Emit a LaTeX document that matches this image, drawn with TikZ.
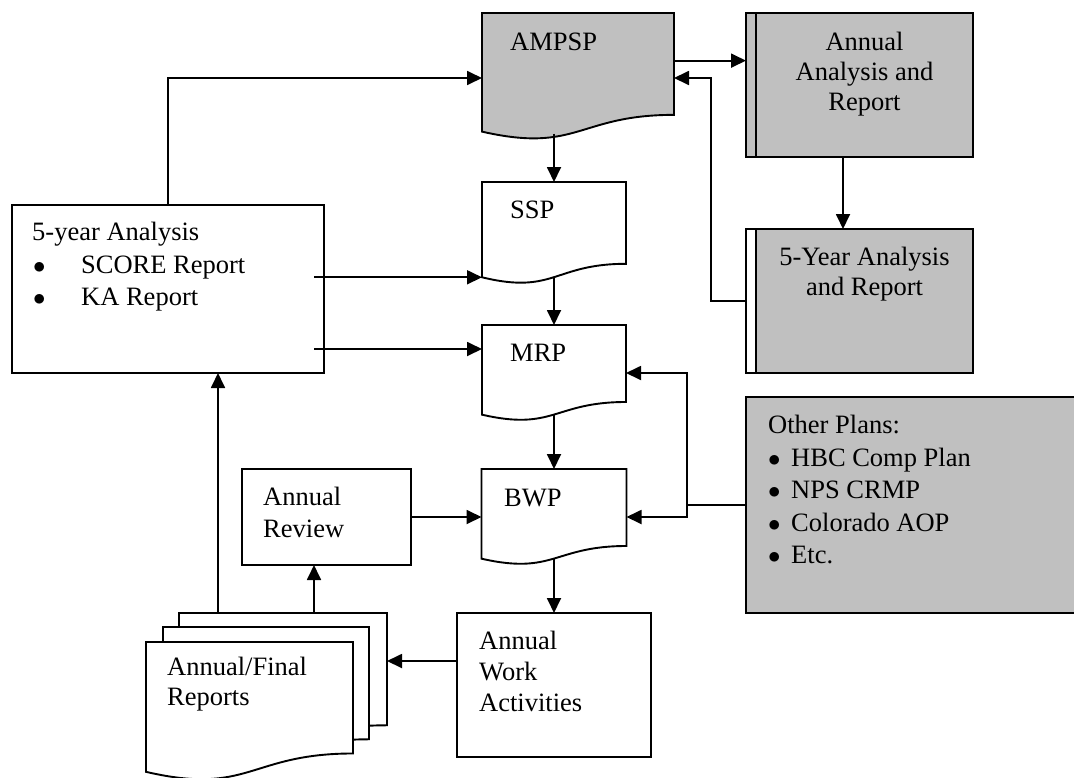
\documentclass[tikz,border=0pt]{standalone}
\usepackage{fontspec}
\setmainfont{Liberation Serif}
\usetikzlibrary{arrows.meta,calc}
\definecolor{boxgray}{RGB}{192,192,192}
\newcommand{\docshape}[2]{%
  \draw[boxline,#2] (#1.north west) -- (#1.north east)
    -- ($(#1.north east)!.802!(#1.south east)$)
    .. controls ($(#1.north)!.802!(#1.south)$) and ($(#1.north)!1.107!(#1.south)$)
    .. ($(#1.north west)!.934!(#1.south west)$) -- cycle;}

\begin{document}
\begin{tikzpicture}[x=1pt,y=-1pt,
	boxline/.style={line width=1.9pt},
	shp/.style={inner sep=0pt, outer sep=0pt},
	box/.style={shp, draw, boxline},
	txt/.style={inner sep=0pt, font=\fontsize{26.5pt}{#1}\selectfont, align=left},
	txt/.default=31pt,
	arr/.style={-{Triangle[length=15pt,width=14pt]}, line width=1.8pt}]
		\useasboundingbox (0,0) rectangle (1074,777);
		
		\node[shp, minimum width=192pt, minimum height=127pt] (ampsp) at (578,76.5) {};
		\node[shp, minimum width=144pt, minimum height=102pt] (ssp) at (554,233) {};
		\node[shp, minimum width=144pt, minimum height=96pt] (mrp) at (554,373) {};
		\node[shp, minimum width=145pt, minimum height=96pt] (bwp) at (554,517) {};
		\docshape{ampsp}{fill=boxgray}
		\docshape{ssp}{fill=white}
		\docshape{mrp}{fill=white}
		\docshape{bwp}{fill=white}
		
		\node[shp, minimum width=208pt, minimum height=140pt] (rep3) at (283,683) {};
		\node[shp, minimum width=206pt, minimum height=140pt] (rep2) at (266,697) {};
		\node[shp, minimum width=207pt, minimum height=139pt] (rep1) at (249.5,711.5) {};
		\docshape{rep3}{fill=white}
		\docshape{rep2}{fill=white}
		\docshape{rep1}{fill=white}
		
		\node[box, fill=boxgray, minimum width=227pt, minimum height=144pt] (annual) at (859.5,85) {};
		\draw[boxline] ([xshift=10pt]annual.north west) -- ([xshift=10pt]annual.south west);
		\node[box, fill=boxgray, minimum width=227pt, minimum height=144pt] (fiveyr) at (859.5,301) {};
		\draw[boxline, fill=white] (fiveyr.north west) rectangle ([xshift=10pt]fiveyr.south west);
		\node[box, minimum width=312pt, minimum height=168pt] (fiveyear) at (168,289) {};
		\node[box, fill=boxgray, minimum width=344pt, minimum height=216pt] (other) at (918,505) {};
		\node[box, minimum width=169pt, minimum height=96pt] (review) at (326.5,517) {};
		\node[box, minimum width=194pt, minimum height=144pt] (awa) at (554,685) {};
		
		\node[txt, anchor=base west] (ampsp-t) at (510,50) {AMPSP};
		\node[txt, anchor=base west] (ssp-t) at (510,218) {SSP};
		\node[txt, anchor=base west] (mrp-t) at (510,361) {MRP};
		\node[txt, anchor=base west] (bwp-t) at (504,506) {BWP};
		\node[txt=30pt, align=center, anchor=north] (annual-t) at (864.5,32) {Annual\\Analysis and\\Report};
		\node[txt=30pt, align=center, anchor=north] (fiveyr-t) at (864.5,247) {5-Year Analysis\\and Report};
		\node[txt=32.5pt, anchor=north west] (fiveyear-t) at (32,222) {5-year Analysis\\\hspace*{1pt}\makebox[48pt][l]{$\bullet$}SCORE Report\\\hspace*{1pt}\makebox[48pt][l]{$\bullet$}KA Report};
		\node[txt=32.5pt, anchor=north west] (other-t) at (768,415) {Other Plans:\\\makebox[23pt][l]{$\bullet$}HBC Comp Plan\\\makebox[23pt][l]{$\bullet$}NPS CRMP\\\makebox[23pt][l]{$\bullet$}Colorado AOP\\\makebox[23pt][l]{$\bullet$}Etc.};
		\node[txt=32pt, anchor=north west] (review-t) at (263,487) {Annual\\Review};
		\node[txt=31pt, anchor=north west] (awa-t) at (479,631) {Annual\\Work\\Activities};
		\node[txt=30pt, anchor=north west] (rep-t) at (167,657) {Annual/Final\\Reports};
		
		\coordinate (ampspout) at ($(ampsp.north east)!.375!(ampsp.south east)$);
		\coordinate (ampspbot) at ($(ampsp.north)!.95!(ampsp.south)$);
		\coordinate (sspin) at ($(ssp.north west)!.934!(ssp.south west)$);
		\coordinate (mrpin) at ($(mrp.north west)!.25!(mrp.south west)$);
		\coordinate (awaout) at ([yshift=24pt]awa.west);
		\coordinate (revin) at ([xshift=-12.5pt]review.south);
		\coordinate (fivein) at ([xshift=50pt]fiveyear.south);
		
		\draw[arr] (fiveyear.north) |- ([yshift=-1.5pt]ampsp.west);
		\draw[arr] (ampspout) -- (ampspout -| annual.west);
		\draw[arr] (fiveyr.west) -- ++(-35,0) |- ([yshift=-1.5pt]ampsp.east);
		\draw[arr] ([xshift=-16.5pt]annual.south) -- ([xshift=-16.5pt]fiveyr.north);
		\draw[arr] (ampspbot -| ssp.north) -- (ssp.north);
		\draw[arr] ($(ssp.north)!.93!(ssp.south)$) -- (mrp.north);
		\draw[arr] ($(mrp.north)!.93!(mrp.south)$) -- (bwp.north);
		\draw[arr] ($(bwp.north)!.93!(bwp.south)$) -- (awa.north);
		\draw[arr] (fiveyear.east |- sspin) ++(-10,0) -- (sspin);
		\draw[arr] (fiveyear.east |- mrpin) ++(-10,0) -- (mrpin);
		\draw[arr] (other.west) -- ++(-59,0) |- (mrp.east);
		\draw[arr] (other.west) -- ++(-59,0) |- (bwp.east);
		\draw[arr] (review.east) -- (review.east -| bwp.west);
		\draw[arr] (awaout) -- (awaout -| rep3.east);
		\draw[arr] (revin |- rep3.north) -- (revin);
		\draw[arr] (fivein |- rep3.north) -- (fivein);
\end{tikzpicture}
\end{document}
